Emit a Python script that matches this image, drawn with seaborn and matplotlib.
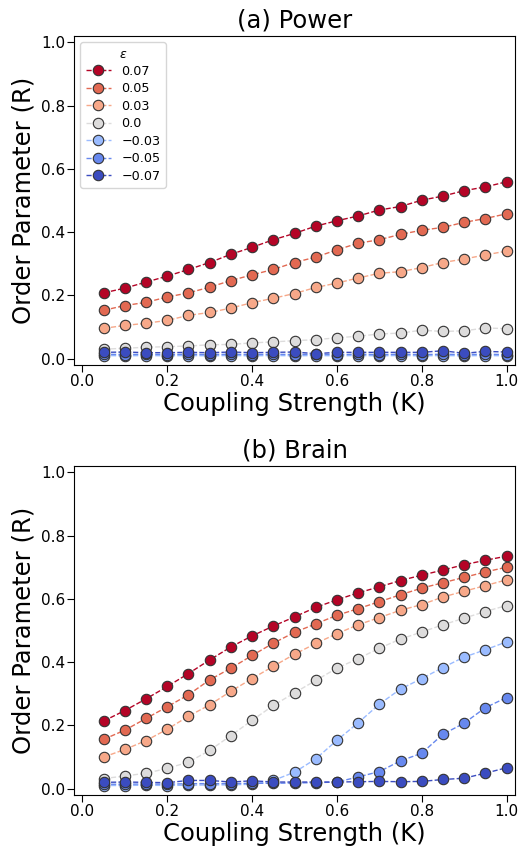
import numpy as np
import pandas as pd
import seaborn as sns
import matplotlib
matplotlib.use('Agg')
import matplotlib.pyplot as plt
from matplotlib.colors import Normalize

# coupling strength values (x axis)
coupling = [0.05, 0.10, 0.15, 0.20, 0.25, 0.30, 0.35, 0.40, 0.45, 0.50,
            0.55, 0.60, 0.65, 0.70, 0.75, 0.80, 0.85, 0.90, 0.95, 1.00]

# epsilon levels, in legend order
epsilons = [0.07, 0.05, 0.03, 0.0, -0.03, -0.05, -0.07]
eps_labels = ['0.07', '0.05', '0.03', '0.0', '\u22120.03', '\u22120.05', '\u22120.07']

# (a) Power
power_p07 = [0.208, 0.223, 0.242, 0.261, 0.282, 0.304, 0.330, 0.352, 0.376, 0.396,
             0.419, 0.436, 0.451, 0.470, 0.481, 0.501, 0.514, 0.531, 0.543, 0.559]
power_p05 = [0.153, 0.168, 0.178, 0.195, 0.208, 0.226, 0.247, 0.265, 0.282, 0.304,
             0.321, 0.344, 0.365, 0.376, 0.393, 0.406, 0.415, 0.431, 0.443, 0.458]
power_p03 = [0.096, 0.105, 0.112, 0.121, 0.137, 0.146, 0.160, 0.177, 0.191, 0.206,
             0.225, 0.239, 0.255, 0.270, 0.275, 0.288, 0.304, 0.315, 0.328, 0.340]
power_0 = [0.030, 0.033, 0.036, 0.038, 0.040, 0.044, 0.045, 0.050, 0.053, 0.057,
           0.060, 0.066, 0.071, 0.078, 0.081, 0.090, 0.086, 0.088, 0.097, 0.095]
power_m03 = [0.010, 0.009, 0.010, 0.009, 0.010, 0.009, 0.010, 0.009, 0.010, 0.009,
             0.010, 0.009, 0.010, 0.009, 0.010, 0.009, 0.010, 0.009, 0.010, 0.009]
power_m05 = [0.014, 0.013, 0.014, 0.013, 0.014, 0.013, 0.014, 0.013, 0.014, 0.013,
             0.014, 0.013, 0.014, 0.013, 0.014, 0.013, 0.014, 0.013, 0.014, 0.013]
power_m07 = [0.020, 0.021, 0.019, 0.019, 0.020, 0.019, 0.021, 0.019, 0.020, 0.021,
             0.016, 0.020, 0.020, 0.020, 0.020, 0.020, 0.025, 0.017, 0.023, 0.021]

# (b) Brain
brain_p07 = [0.214, 0.247, 0.284, 0.323, 0.364, 0.407, 0.448, 0.483, 0.514, 0.543,
             0.573, 0.597, 0.619, 0.638, 0.658, 0.675, 0.691, 0.708, 0.722, 0.735]
brain_p05 = [0.156, 0.185, 0.222, 0.259, 0.297, 0.344, 0.381, 0.421, 0.460, 0.494,
             0.521, 0.548, 0.569, 0.591, 0.613, 0.634, 0.651, 0.668, 0.685, 0.700]
brain_p03 = [0.100, 0.124, 0.152, 0.188, 0.229, 0.265, 0.308, 0.348, 0.387, 0.425,
             0.459, 0.490, 0.518, 0.541, 0.564, 0.582, 0.606, 0.624, 0.642, 0.660]
brain_0 = [0.032, 0.040, 0.049, 0.064, 0.084, 0.121, 0.168, 0.216, 0.263, 0.303,
           0.342, 0.381, 0.411, 0.444, 0.473, 0.495, 0.518, 0.539, 0.560, 0.579]
brain_m03 = [0.010, 0.010, 0.011, 0.010, 0.011, 0.012, 0.012, 0.014, 0.026, 0.052,
             0.094, 0.153, 0.208, 0.267, 0.315, 0.348, 0.383, 0.416, 0.439, 0.464]
brain_m05 = [0.014, 0.014, 0.015, 0.014, 0.016, 0.016, 0.016, 0.017, 0.017, 0.018,
             0.019, 0.021, 0.037, 0.054, 0.088, 0.112, 0.172, 0.207, 0.256, 0.288]
brain_m07 = [0.020, 0.021, 0.020, 0.019, 0.026, 0.026, 0.021, 0.025, 0.021, 0.021,
             0.021, 0.021, 0.022, 0.023, 0.022, 0.023, 0.029, 0.033, 0.049, 0.066]

power = [power_p07, power_p05, power_p03, power_0, power_m03, power_m05, power_m07]
brain = [brain_p07, brain_p05, brain_p03, brain_0, brain_m03, brain_m05, brain_m07]


def plot_panel(ax, series, title, show_legend=False):
    cmap = plt.get_cmap('coolwarm')
    norm = Normalize(vmin=min(epsilons), vmax=max(epsilons))

    for eps, label, values in zip(epsilons, eps_labels, series):
        df = pd.DataFrame({'K': coupling, 'R': values})
        sns.lineplot(data=df, x='K', y='R', ax=ax, color=cmap(norm(eps)),
                     linestyle='--', linewidth=1.0, marker='o', markersize=7.5,
                     markeredgecolor='#333333', markeredgewidth=0.8, label=label)

    ax.set_title(title, fontsize=17.5)
    ax.set_xlabel('Coupling Strength (K)', fontsize=17.5, labelpad=2)
    ax.set_ylabel('Order Parameter (R)', fontsize=17.5, labelpad=4)
    ax.set_xlim(-0.02, 1.02)
    ax.set_ylim(-0.02, 1.02)
    ax.set_xticks(np.arange(0, 1.01, 0.2))
    ax.set_yticks(np.arange(0, 1.01, 0.2))
    ax.tick_params(axis='both', labelsize=11, length=5, pad=1.5)

    if show_legend:
        ax.legend(title=r'$\epsilon$', loc='upper left', fontsize=9.2, title_fontsize=9,
                  labelspacing=0.35, borderaxespad=0.5)
    else:
        ax.get_legend().remove()


fig = plt.figure(figsize=(5.21, 8.48), dpi=100)
ax_top = fig.add_axes([74 / 521, 1 - 365 / 848, 441 / 521, 329 / 848])
ax_bot = fig.add_axes([74 / 521, 1 - 795 / 848, 441 / 521, 329 / 848])

plot_panel(ax_top, power, '(a) Power', show_legend=True)
plot_panel(ax_bot, brain, '(b) Brain')

plt.savefig('out.png', dpi=100)
